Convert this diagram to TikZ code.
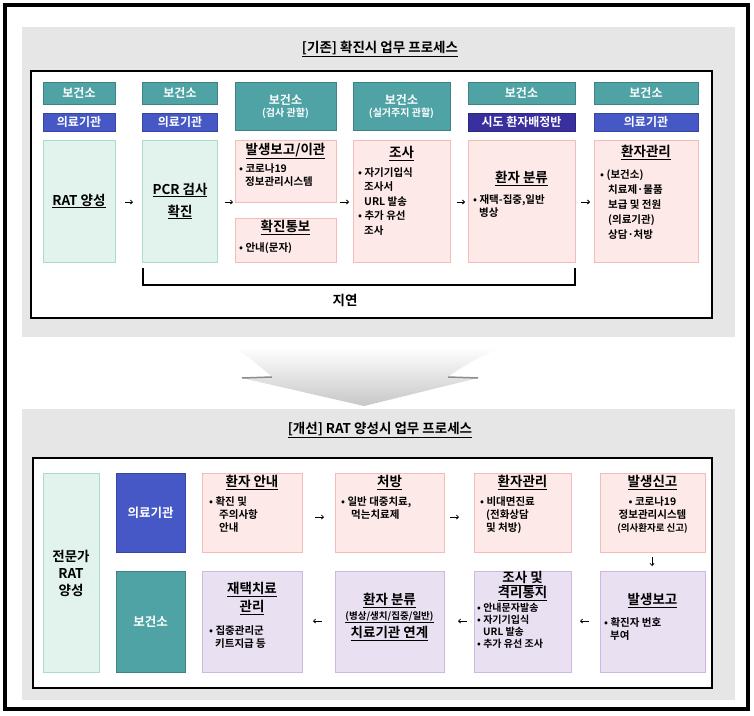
\documentclass[tikz,border=0pt]{standalone}
\usepackage{fontspec}
\setmainfont{Noto Sans CJK KR}[BoldFont={Noto Sans CJK KR Bold}]
\usetikzlibrary{arrows.meta}
\definecolor{teal}{HTML}{4FA3A5}
\definecolor{blu}{HTML}{4658C6}
\definecolor{navy}{HTML}{3A2F9E}
\definecolor{gfill}{HTML}{E2F3EE}\definecolor{gline}{HTML}{A8DEC8}
\definecolor{pfill}{HTML}{FDEAE8}\definecolor{pline}{HTML}{F4BCB8}
\definecolor{vfill}{HTML}{E9E0F2}\definecolor{vline}{HTML}{CDB8E2}
\definecolor{panel}{HTML}{E6E6E6}
\tikzset{
 x=1pt,y=-1pt,
 hdr/.style={fill=#1,draw=#1!80!black,line width=0.8pt,text=white,font=\bfseries\fontsize{12}{13}\selectfont,align=center,inner sep=0pt},
 bx/.style={line width=0.8pt,inner sep=0pt},
 grn/.style={bx,fill=gfill,draw=gline},
 pnk/.style={bx,fill=pfill,draw=pline},
 vio/.style={bx,fill=vfill,draw=vline},
 ttl/.style={font=\bfseries\fontsize{13.5}{16}\selectfont,align=center,inner sep=0pt},
 bdy/.style={font=\bfseries\fontsize{10.5}{13}\selectfont,align=left,inner sep=0pt,anchor=north west},
 arr/.style={-{Straight Barb[length=2pt,width=4pt]},line width=0.8pt},
}
\newcommand{\ul}[1]{\underline{#1}}
\begin{document}
\begin{tikzpicture}
\useasboundingbox (0,0) rectangle (754,715);
\fill[white] (0,0) rectangle (754,715);
\draw[line width=4pt] (5,5) rectangle (748,709);
% top panel
\fill[panel] (22,27) rectangle (735,337);
\node[ttl] (t1) at (380,49) {\ul{[기존] 확진시 업무 프로세스}};
\draw[fill=white,line width=1.5pt] (31,71) rectangle (712,318);
% headers
\node[hdr=teal,minimum width=72pt,minimum height=22pt] (h1) at (79,93) {보건소};
\node[hdr=blu,minimum width=72pt,minimum height=18pt] (p1) at (79,122) {의료기관};
\node[hdr=teal,minimum width=75pt,minimum height=22pt] (h2) at (180,93) {보건소};
\node[hdr=blu,minimum width=75pt,minimum height=18pt] (p2) at (180,122) {의료기관};
\node[hdr=teal,minimum width=101pt,minimum height=48pt] (h3) at (285.5,106) {보건소\\[-1pt]{\fontsize{10}{11}\selectfont(검사 관할)}};
\node[hdr=teal,minimum width=97pt,minimum height=48pt] (h4) at (401.5,106) {보건소\\[-1pt]{\fontsize{10}{11}\selectfont(실거주지 관할)}};
\node[hdr=teal,minimum width=107pt,minimum height=22pt] (h5) at (521.5,93) {보건소};
\node[hdr=navy,minimum width=107pt,minimum height=18pt] (p5) at (521.5,122) {시도 환자배정반};
\node[hdr=teal,minimum width=104pt,minimum height=22pt] (h6) at (646,93) {보건소};
\node[hdr=blu,minimum width=104pt,minimum height=18pt] (p6) at (646,122) {의료기관};
% content
\node[grn,minimum width=72pt,minimum height=122pt] (c1) at (79,201) {};
\node[ttl] at (c1) {\ul{RAT 양성}};
\node[grn,minimum width=75pt,minimum height=122pt] (c2) at (180,201) {};
\node[ttl,font=\bfseries\fontsize{13.5}{22}\selectfont] at (180,201) {\ul{PCR 검사}\\\ul{확진}};
\node[pnk,minimum width=101pt,minimum height=62pt] (c3a) at (285.5,171) {};
\node[ttl,anchor=north] at (285.5,143) {\ul{발생보고/이관}};
\node[bdy] at (239,163) {• 코로나19\\\hspace{6pt}정보관리시스템};
\node[pnk,minimum width=101pt,minimum height=44pt] (c3b) at (285.5,240) {};
\node[ttl,anchor=north] at (285.5,220) {\ul{확진통보}};
\node[bdy] at (239,242) {• 안내(문자)};
\node[pnk,minimum width=97pt,minimum height=122pt] (c4) at (401.5,201) {};
\node[ttl,anchor=north] at (401.5,146) {\ul{조사}};
\node[bdy,font=\bfseries\fontsize{10.5}{14.5}\selectfont] at (358,167) {• 자기기입식\\\hspace{6pt}조사서\\\hspace{6pt}URL 발송\\• 추가 유선\\\hspace{6pt}조사};
\node[pnk,minimum width=107pt,minimum height=122pt] (c5) at (521.5,201) {};
\node[ttl,anchor=north] at (521.5,171) {\ul{환자 분류}};
\node[bdy] at (473,194) {• 재택-집중,일반\\\hspace{6pt}병상};
\node[pnk,minimum width=104pt,minimum height=122pt] (c6) at (646,201) {};
\node[ttl,anchor=north] at (646,145) {\ul{환자관리}};
\node[bdy,font=\bfseries\fontsize{10.5}{15}\selectfont] at (600,169) {• (보건소)\\\hspace{8pt}치료제·물품\\\hspace{8pt}보급 및 전원\\\hspace{8pt}(의료기관)\\\hspace{8pt}상담·처방};
% arrows
\coordinate (a1) at (125,202); \coordinate (a1e) at (133,202);
\draw[arr] (a1) -- (a1e);
\coordinate (a2) at (225,202); \coordinate (a2e) at (233,202);
\draw[arr] (a2) -- (a2e);
\coordinate (a3) at (340,202); \coordinate (a3e) at (349,202);
\draw[arr] (a3) -- (a3e);
\coordinate (a4) at (457,202); \coordinate (a4e) at (465,202);
\draw[arr] (a4) -- (a4e);
\coordinate (a5) at (581,202); \coordinate (a5e) at (590,202);
\draw[arr] (a5) -- (a5e);
% bracket
\coordinate (b1) at (143,268); \coordinate (b2) at (575,268);
\draw[line width=1.5pt] (b1) -- (143,285) -- (575,285) -- (b2);
\node[ttl] (delay) at (345,300) {지연};
% big arrow
\shade[top color=white,bottom color=black!22] (233,347) -- (505,347) .. controls (480,355) and (460,368) .. (448,377) -- (478,378) -- (364,406) -- (242,378) -- (272,377) .. controls (260,366) and (245,354) .. (233,347) -- cycle;
\draw[black!45,line width=1.5pt] (242,378) -- (272,377) (448,377) -- (478,378);
% bottom panel
\fill[panel] (22,409) rectangle (735,700);
\node[ttl] (t2) at (380,430) {\ul{[개선] RAT 양성시 업무 프로세스}};
\draw[fill=white,line width=1.5pt] (33,458) rectangle (712,688);
\node[grn,minimum width=56pt,minimum height=199pt] (L) at (71,573) {};
\node[ttl,font=\bfseries\fontsize{13.5}{17}\selectfont] at (71,573) {전문가\\RAT\\양성};
\node[hdr=blu,minimum width=69pt,minimum height=79pt,font=\bfseries\fontsize{12.5}{14}\selectfont] (m) at (150.5,512.5) {의료기관};
\node[hdr=teal,minimum width=69pt,minimum height=101pt,font=\bfseries\fontsize{12.5}{14}\selectfont] (s) at (150.5,621.5) {보건소};
% row 1
\node[pnk,minimum width=100pt,minimum height=79pt] (r1) at (252,512.5) {};
\node[ttl,anchor=north] at (252,475) {\ul{환자 안내}};
\node[bdy] at (209,496) {• 확진 및\\\hspace{10pt}주의사항\\\hspace{10pt}안내};
\node[pnk,minimum width=109pt,minimum height=79pt] (r2) at (389.5,512.5) {};
\node[ttl,anchor=north] at (389.5,475) {\ul{처방}};
\node[bdy] at (341,496) {• 일반 대중치료,\\\hspace{10pt}먹는치료제};
\node[pnk,minimum width=97pt,minimum height=79pt] (r3) at (522.5,512.5) {};
\node[ttl,anchor=north] at (522.5,475) {\ul{환자관리}};
\node[bdy] at (480,496) {• 비대면진료\\\hspace{6pt}(전화상담\\\hspace{6pt}및 처방)};
\node[pnk,minimum width=105pt,minimum height=79pt] (r4) at (652.5,512.5) {};
\node[ttl,anchor=north] at (652.5,475) {\ul{발생신고}};
\node[bdy,align=center,anchor=north] at (652.5,496) {• 코로나19\\정보관리시스템\\{\fontsize{9.5}{13}\selectfont(의사환자로 신고)}};
% row 2
\node[vio,minimum width=100pt,minimum height=101pt] (q1) at (252,621.5) {};
\node[ttl,anchor=north,font=\bfseries\fontsize{13.5}{18}\selectfont] at (252,582) {\ul{재택치료}\\\ul{관리}};
\node[bdy] at (209,625) {• 집중관리군\\\hspace{6pt}키트지급 등};
\node[vio,minimum width=109pt,minimum height=101pt] (q2) at (389.5,621.5) {};
\node[ttl,anchor=north] at (389.5,593) {\ul{환자 분류}};
\node[ttl,anchor=north,font=\bfseries\fontsize{9.5}{11}\selectfont] at (389.5,611) {\ul{(병상/생치/집중/일반)}};
\node[ttl,anchor=north] at (389.5,626) {\ul{치료기관 연계}};
\node[vio,minimum width=97pt,minimum height=101pt] (q3) at (522.5,621.5) {};
\node[ttl,anchor=north,font=\bfseries\fontsize{13.5}{15}\selectfont] at (522.5,571) {\ul{조사 및}\\\ul{격리통지}};
\node[bdy,font=\bfseries\fontsize{10}{12}\selectfont] at (477,603) {• 안내문자발송\\• 자기기입식\\\hspace{6pt}URL 발송\\• 추가 유선 조사};
\node[vio,minimum width=105pt,minimum height=101pt] (q4) at (652.5,621.5) {};
\node[ttl,anchor=north] at (652.5,593) {\ul{발생보고}};
\node[bdy] at (604,617) {• 확진자 번호\\\hspace{6pt}부여};
% arrows bottom
\coordinate (e1) at (315,517); \coordinate (e1e) at (324,517); \draw[arr] (e1) -- (e1e);
\coordinate (e2) at (450,517); \coordinate (e2e) at (459,517); \draw[arr] (e2) -- (e2e);
\coordinate (d1) at (652,557); \coordinate (d1e) at (652,566); \draw[arr] (d1) -- (d1e);
\coordinate (f1) at (589,621); \coordinate (f1e) at (580,621); \draw[arr] (f1) -- (f1e);
\coordinate (f2) at (467,621); \coordinate (f2e) at (458,621); \draw[arr] (f2) -- (f2e);
\coordinate (f3) at (322,621); \coordinate (f3e) at (313,621); \draw[arr] (f3) -- (f3e);
\end{tikzpicture}
\end{document}
